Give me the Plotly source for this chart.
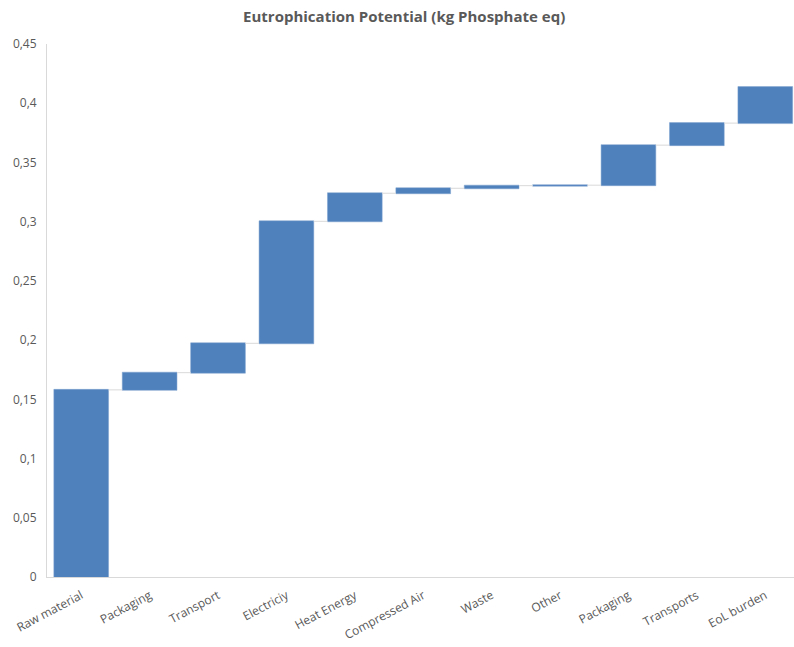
import plotly.graph_objects as go

# Contribution of each life-cycle stage (kg PO4 eq)
stages = ["Raw material", "Packaging", "Transport", "Electriciy", "Heat Energy",
          "Compressed Air", "Waste", "Other", "Packaging", "Transports", "EoL burden"]
contributions = [0.158, 0.0145, 0.0248, 0.103, 0.0237, 0.0042, 0.0022, 0.0004,
                 0.0338, 0.0186, 0.0304]
y_ticks = [0, 0.05, 0.1, 0.15, 0.2, 0.25, 0.3, 0.35, 0.4, 0.45]
y_tick_labels = ["0", "0,05", "0,1", "0,15", "0,2", "0,25", "0,3", "0,35", "0,4", "0,45"]

positions = list(range(len(stages)))
bar_color = "#4F81BD"
text_color = "#595959"

fig = go.Figure(go.Waterfall(
    x=positions,
    y=contributions,
    measure=["relative"] * len(stages),
    increasing=dict(marker=dict(color=bar_color, line=dict(color="#7FA3CF", width=0.5))),
    decreasing=dict(marker=dict(color=bar_color)),
    totals=dict(marker=dict(color=bar_color)),
    connector=dict(line=dict(color="#D9D9D9", width=1)),
    hoverinfo="x+y",
))

fig.update_layout(
    width=794, height=647,
    margin=dict(l=47, r=0, t=44, b=70),
    paper_bgcolor="white", plot_bgcolor="white",
    font=dict(family="Open Sans, sans-serif", size=12, color=text_color),
    title=dict(text="<b>Eutrophication Potential (kg Phosphate eq)</b>",
               x=0.509, xanchor="center", y=0.974, yanchor="middle",
               font=dict(size=15, color=text_color)),
    showlegend=False,
    bargap=0.24,
)
fig.update_xaxes(
    tickvals=positions, ticktext=stages, tickangle=-28,
    range=[-0.5, len(stages) - 0.58],
    showline=True, linecolor="#D9D9D9", linewidth=1,
    showgrid=False, zeroline=False, ticks="",
    ticklabelstandoff=6,
    tickfont=dict(size=12, color=text_color),
)
fig.update_yaxes(
    range=[0, 0.45], tickvals=y_ticks, ticktext=y_tick_labels,
    showline=True, linecolor="#D9D9D9", linewidth=1,
    showgrid=False, zeroline=False, ticks="",
    ticklabelstandoff=7,
    tickfont=dict(size=12, color=text_color),
)

fig.write_html("out.html")
